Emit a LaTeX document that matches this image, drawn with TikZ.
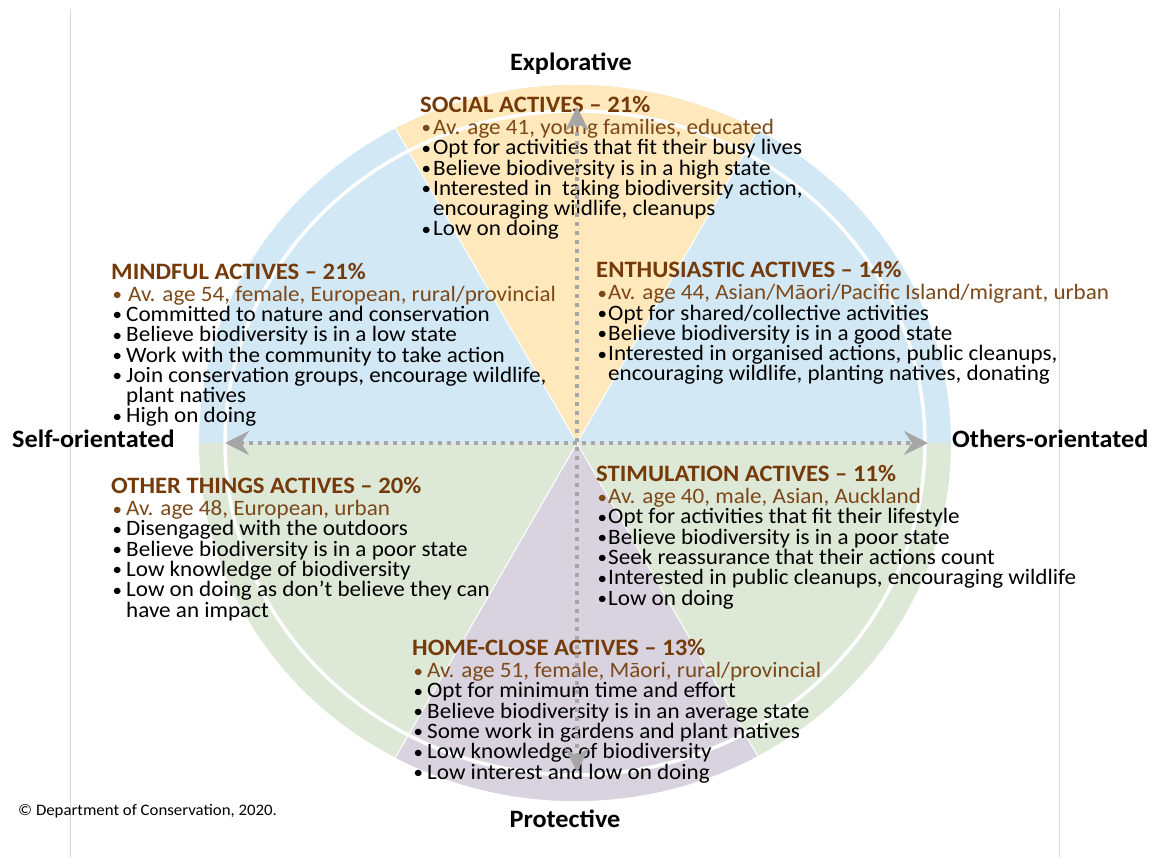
\documentclass[tikz,border=0pt]{standalone}
\usepackage{fontspec}
\setmainfont{Carlito}[FakeStretch=1.05]
\usetikzlibrary{arrows.meta}

\definecolor{segblue}{RGB}{210,232,245}
\definecolor{segyellow}{RGB}{255,233,188}
\definecolor{seggreen}{RGB}{221,232,214}
\definecolor{segpurple}{RGB}{216,211,222}
\definecolor{titlebrown}{RGB}{117,58,10}
\definecolor{agebrown}{RGB}{125,72,25}
\definecolor{axisgray}{RGB}{166,166,166}
\definecolor{framegray}{RGB}{217,217,217}

\newlength{\bulw}
\newcommand{\grptitle}[1]{{\fontsize{23.5}{20.3}\selectfont\bfseries\color{titlebrown}#1}}
\newcommand{\agel}[1]{{\color{agebrown}#1}}
\newcommand{\bul}{\makebox[\bulw][l]{\hspace{1.5pt}\raisebox{0.5pt}{\fontsize{18}{18}\selectfont •}}}
\newcommand{\indt}{\hspace*{\bulw}}

\tikzset{
  grp/.style = {anchor = base west, align = left, inner sep = 0pt, font = \fontsize{22}{20.3}\selectfont,
    execute at begin node = {\setlength{\bulw}{#1}}},
  axislabel/.style = {inner sep = 0pt, font = \fontsize{25}{25}\selectfont\bfseries},
  axisline/.style = {axisgray, line width = 4pt, dash pattern = on 4pt off 5pt,
    {Stealth[length = 24pt, width = 24pt, inset = 8pt]}-{Stealth[length = 24pt, width = 24pt, inset = 8pt]}},
  wedge/.style = {draw = white, line width = 1pt}
}

\begin{document}
\begin{tikzpicture}[x = 1pt, y = 1pt]
	 \useasboundingbox (0, 0) rectangle (1155, 857);
	 \draw[framegray, thin] (70, 0) -- (70, 848);
	 \draw[framegray, thin] (1059, 0) -- (1059, 848);

	 \coordinate (c) at (577, 414);
	 \begin{scope}
	 \clip (575, 414) ellipse [x radius = 376, y radius = 358];
	 \fill[segblue] (0, 414) rectangle (1155, 857);
	 \fill[seggreen] (0, 0) rectangle (1155, 414);
	 \filldraw[segyellow, wedge] (c) -- ++(60:600) -- ++(180:600) -- cycle;
	 \filldraw[segpurple, wedge] (c) -- ++(-60:600) -- ++(180:600) -- cycle;
	 \end{scope}
	 \draw[white, line width = 3.5pt] (575, 414) ellipse [x radius = 350, y radius = 332];

	 % base anchor = baseline of the last line
	 \node[grp = 13pt] (social) at (420, 621) {\grptitle{SOCIAL ACTIVES – 21\%}\\[1.7pt]
	   \agel{\bul Av. age 41, young families, educated}\\
	   \bul Opt for activities that fit their busy lives\\
	   \bul Believe biodiversity is in a high state\\
	   \bul Interested in \ taking biodiversity action,\\
	   \indt encouraging wildlife, cleanups\\
	   \bul Low on doing};

	 \node[grp = 15pt] (mindful) at (111, 434) {\grptitle{MINDFUL ACTIVES – 21\%}\\[1.7pt]
	   \agel{\bul\hspace{2pt}Av. age 54, female, European, rural/provincial}\\
	   \bul Committed to nature and conservation\\
	   \bul Believe biodiversity is in a low state\\
	   \bul Work with the community to take action\\
	   \bul Join conservation groups, encourage wildlife,\\
	   \indt plant natives\\
	   \bul High on doing};

	 \node[grp = 12pt] (enthusiastic) at (596, 476) {\grptitle{ENTHUSIASTIC ACTIVES – 14\%}\\[1.7pt]
	   \agel{\bul Av. age 44, Asian/Māori/Pacific Island/migrant, urban}\\
	   \bul Opt for shared/collective activities\\
	   \bul Believe biodiversity is in a good state\\
	   \bul Interested in organised actions, public cleanups,\\
	   \indt encouraging wildlife, planting natives, donating};

	 \node[grp = 15pt] (otherthings) at (111, 240) {\grptitle{OTHER THINGS ACTIVES – 20\%}\\[1.7pt]
	   \agel{\bul Av. age 48, European, urban}\\
	   \bul Disengaged with the outdoors\\
	   \bul Believe biodiversity is in a poor state\\
	   \bul Low knowledge of biodiversity\\
	   \bul Low on doing as don’t believe they can\\
	   \indt have an impact};

	 \node[grp = 12pt] (stimulation) at (596, 252) {\grptitle{STIMULATION ACTIVES – 11\%}\\[1.7pt]
	   \agel{\bul Av. age 40, male, Asian, Auckland}\\
	   \bul Opt for activities that fit their lifestyle\\
	   \bul Believe biodiversity is in a poor state\\
	   \bul Seek reassurance that their actions count\\
	   \bul Interested in public cleanups, encouraging wildlife\\
	   \bul Low on doing};

	 \node[grp = 15pt] (homeclose) at (412, 78) {\grptitle{HOME-CLOSE ACTIVES – 13\%}\\[1.7pt]
	   \agel{\bul Av. age 51, female, Māori, rural/provincial}\\
	   \bul Opt for minimum time and effort\\
	   \bul Believe biodiversity is in an average state\\
	   \bul Some work in gardens and plant natives\\
	   \bul Low knowledge of biodiversity\\
	   \bul Low interest and low on doing};

	 \node[axislabel, anchor = base] (explorative) at (571, 786) {Explorative};
	 \node[axislabel, anchor = base] (protective) at (565, 30) {Protective};
	 \node[axislabel, anchor = base west] (self) at (12, 409) {Self-orientated};
	 \node[axislabel, anchor = base west] (others) at (952, 409) {Others-orientated};
	 \node[anchor = base west, inner sep = 0pt, font = \fontsize{16}{16}\selectfont] (copyright) at (18, 42) {© Department of Conservation, 2020.};

	 \coordinate (up) at (577, 750);
	 \coordinate (down) at (577, 85);
	 \coordinate (left) at (225, 414);
	 \coordinate (right) at (928, 414);
	 \draw[axisline] (down) -- (up);
	 \draw[axisline] (left) -- (right);
\end{tikzpicture}
\end{document}
